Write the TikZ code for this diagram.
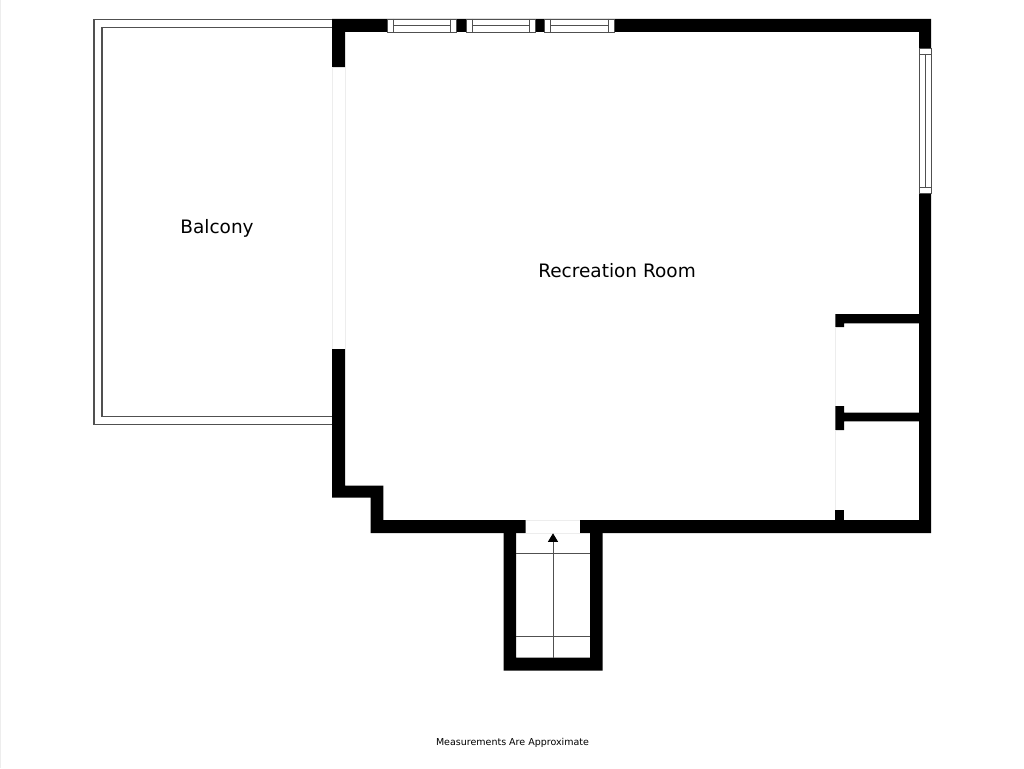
\documentclass[tikz,border=0pt]{standalone}
\usepackage{fontspec}
\setmainfont{DejaVu Sans}
\usepackage{xcolor}
\usetikzlibrary{arrows.meta}
\definecolor{wallBlack}{HTML}{000000}
\definecolor{fineLine}{HTML}{505050}
\definecolor{openLine}{HTML}{EDEDED}
\tikzset{
  wallfill/.style={fill=wallBlack},
  winline/.style={draw=fineLine, line width=0.95pt},
  openline/.style={draw=openLine, line width=0.8pt},
  balconyline/.style={draw=fineLine, line width=1.5pt},
  roomlabel/.style={inner sep=0pt, font=\fontsize{18.5}{20}\selectfont},
  footlabel/.style={inner sep=0pt, font=\fontsize{9.5}{11}\selectfont}
}

\begin{document}
\begin{tikzpicture}[x=1pt,y=-1pt]
      \useasboundingbox (0,0) rectangle (1024,768);
      \fill[white] (0,0) rectangle (1024,768);
      \draw[openline] (0.5,0) -- (0.5,768);
      \begin{scope}
        \draw[balconyline] (332,19.7) -- (94,19.7) -- (94,424.5) -- (332,424.5);
        \draw[balconyline] (332,27.3) -- (102,27.3) -- (102,416.7) -- (332,416.7);
      \end{scope}
      \begin{scope}
        \fill[wallfill] (332,19) -- (931,19) -- (931,533) -- (580,533) -- (580,520) -- (919,520) -- (919,32) -- (345,32) -- (345,67) -- (332,67) -- cycle;
        \fill[wallfill] (332,349) -- (345,349) -- (345,485.7) -- (383.3,485.7) -- (383.3,520) -- (525.5,520) -- (525.5,533) -- (370.5,533) -- (370.5,497.7) -- (332,497.7) -- cycle;
        \fill[wallfill] (503.5,533) -- (516,533) -- (516,657.5) -- (590,657.5) -- (590,533) -- (602.7,533) -- (602.7,670.5) -- (503.5,670.5) -- cycle;
        \fill[wallfill] (835.3,314) -- (919,314) -- (919,323.3) -- (844,323.3) -- (844,327) -- (835.3,327) -- cycle;
        \fill[wallfill] (835.3,406) -- (844,406) -- (844,412.7) -- (919,412.7) -- (919,421.3) -- (844,421.3) -- (844,430) -- (835.3,430) -- cycle;
        \fill[wallfill] (835.3,509.5) rectangle (844,520);
      \end{scope}
      \draw[openline] (332.5,67) -- (332.5,349) (345,67) -- (345,349);
      \draw[openline] (835.5,327) -- (835.5,406) (835.5,430) -- (835.5,509.5);
      \draw[openline] (525.5,520) -- (580,520) (525.5,533) -- (580,533);
      \foreach \xa/\xb in {387.3/456.7, 466.5/535, 544.3/614} {
        \fill[white] (\xa,19) rectangle (\xb,32);
        \draw[winline] (\xa,19) rectangle (\xb,32);
        \draw[winline] (\xa+6,19) -- (\xa+6,32);
        \draw[winline] (\xb-6,19) -- (\xb-6,32);
        \draw[winline] (\xa+6,25.6) -- (\xb-6,25.6);
      }
      \begin{scope}
        \def\ya{48}\def\yb{193}
        \fill[white] (919,\ya) rectangle (931,\yb);
        \draw[winline] (919,\ya) rectangle (931,\yb);
        \draw[winline] (919,\ya+6) -- (931,\ya+6);
        \draw[winline] (919,\yb-6) -- (931,\yb-6);
        \draw[winline] (925,\ya+6) -- (925,\yb-6);
      \end{scope}
      \coordinate (stairFoot) at (553,657.5);
      \coordinate (stairHead) at (553,533.3);
      \draw[winline] (516,553.7) -- (590,553.7);
      \draw[winline] (516,636.7) -- (590,636.7);
      \draw[winline, -{Triangle[length=8.5pt,width=10pt,black]}] (stairFoot) -- (stairHead);
      \node[roomlabel] (balconyText) at (217,228.5) {Balcony};
      \node[roomlabel] (recText) at (617,270.5) {Recreation Room};
      \node[footlabel] (noteText) at (512.5,742.8) {Measurements Are Approximate};
    \end{tikzpicture}
\end{document}
